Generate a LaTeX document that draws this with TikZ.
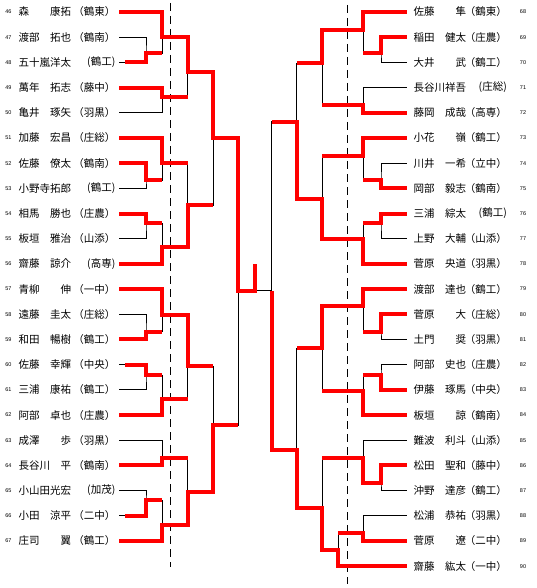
\documentclass[tikz,border=0pt]{standalone}
\usepackage{fontspec}
\newfontfamily\jpfont{Noto Sans CJK JP}
\newfontfamily\numfont{Liberation Sans}

\tikzset{
  win/.style={red, line width=4pt},
  lose/.style={black, line width=0.9pt},
  guide/.style={black, line width=0.9pt, dash pattern=on 8pt off 5pt},
  pname/.style={anchor=west, inner sep=0pt, font=\jpfont\fontsize{10.5}{12}\selectfont},
  pschool/.style={anchor=east, inner sep=0pt, font=\jpfont\fontsize{10.5}{12}\selectfont},
  pnum/.style={inner sep=0pt, font=\numfont\fontsize{5.5}{6}\selectfont},
}

\begin{document}
\begin{tikzpicture}[x=1pt, y=-1pt]
    % 設定
    \def\dy{25.19} % 行の間隔
    \useasboundingbox (0,0) rectangle (536,588);

    % 左側の選手
    \foreach \pn/\nm/\sch [count=\i from 0] in {
        46/森　　康拓/（鶴東）, 47/渡部　拓也/（鶴南）, 48/五十嵐洋太/{(鶴工)},
        49/萬年　拓志/（藤中）, 50/亀井　琢矢/（羽黒）, 51/加藤　宏昌/（庄総）,
        52/佐藤　僚太/（鶴南）, 53/小野寺拓郎/{(鶴工)}, 54/相馬　勝也/（庄農）,
        55/板垣　雅治/（山添）, 56/齋藤　諒介/{(高専)}, 57/青柳　　伸/（一中）,
        58/遠藤　圭太/（庄総）, 59/和田　暢樹/（鶴工）, 60/佐藤　幸輝/（中央）,
        61/三浦　康祐/（鶴工）, 62/阿部　卓也/（庄農）, 63/成澤　　歩/（羽黒）,
        64/長谷川　平/（鶴南）, 65/小山田光宏/{(加茂)}, 66/小田　涼平/（二中）,
        67/庄司　　翼/（鶴工）}{
        \coordinate (p\pn) at (119, 12+\dy*\i);
        \node[pnum] (num\pn) at (8.5, 12+\dy*\i) {\pn};
        \node[pname] (nm\pn) at (18.5, 12+\dy*\i) {\nm};
        \node[pschool] (sc\pn) at (115.5, 12+\dy*\i) {\sch};
    }

    % 右側の選手
    \foreach \pn/\nm/\sch [count=\i from 0] in {
        68/佐藤　　隼/（鶴東）, 69/稲田　健太/（庄農）, 70/大井　　武/（鶴工）,
        71/長谷川祥吾/{(庄総)}, 72/藤岡　成哉/（高専）, 73/小花　　嶺/（鶴工）,
        74/川井　一希/（立中）, 75/岡部　毅志/（鶴南）, 76/三浦　綜太/{(鶴工)},
        77/上野　大輔/（山添）, 78/菅原　央道/（羽黒）, 79/渡部　達也/（鶴工）,
        80/菅原　　大/（庄総）, 81/土門　　奨/（羽黒）, 82/阿部　史也/（庄農）,
        83/伊藤　琢馬/（中央）, 84/板垣　　諒/（鶴南）, 85/難波　利斗/（山添）,
        86/松田　聖和/（藤中）, 87/沖野　達彦/（鶴工）, 88/松浦　恭祐/（羽黒）,
        89/菅原　　遼/（二中）, 90/齋藤　紘太/（一中）}{
        \coordinate (p\pn) at (406.7, 12+\dy*\i);
        \node[pnum] (num\pn) at (523, 12+\dy*\i) {\pn};
        \node[pname] (nm\pn) at (413.3, 12+\dy*\i) {\nm};
        \node[pschool] (sc\pn) at (507, 12+\dy*\i) {\sch};
    }

    % 試合の位置（左）
    \coordinate (a1) at (146,53.3);
    \coordinate (a2) at (162.3,37.3);
    \coordinate (a3) at (162.3,96.7);
    \coordinate (a4) at (146,180);
    \coordinate (a5) at (162.3,163.3);
    \coordinate (a6) at (146,223.3);
    \coordinate (a7) at (162.3,247);
    \coordinate (a8) at (146,331.7);
    \coordinate (a9) at (162.3,315);
    \coordinate (a10) at (146,375);
    \coordinate (a11) at (162.3,398.8);
    \coordinate (a12) at (162.3,458.3);
    \coordinate (a13) at (146,500);
    \coordinate (a14) at (162.3,525);
    \coordinate (b1) at (187.5,71.7);
    \coordinate (b2) at (187.5,205);
    \coordinate (b3) at (187.5,366);
    \coordinate (b4) at (187.5,491.7);
    \coordinate (c1) at (213.3,138.3);
    \coordinate (c2) at (213.3,425);
    \coordinate (d1) at (238.3,290.7);
    \coordinate (champ) at (255,264.3);

    % 試合の位置（右）
    \coordinate (e1) at (381,53.3);
    \coordinate (e2) at (363.3,30);
    \coordinate (e3) at (363.3,105);
    \coordinate (e4) at (381,180);
    \coordinate (e5) at (363.3,155.7);
    \coordinate (e6) at (381,223.3);
    \coordinate (e7) at (363.3,239);
    \coordinate (e8) at (381,331.7);
    \coordinate (e9) at (363.3,305.5);
    \coordinate (e10) at (381,375);
    \coordinate (e11) at (363.3,391);
    \coordinate (e12) at (381,483.3);
    \coordinate (e13) at (363.3,458.3);
    \coordinate (e14) at (363.3,533.3);
    \coordinate (e15) at (338.3,550);
    \coordinate (f1) at (322.3,63.3);
    \coordinate (f2) at (322.3,199);
    \coordinate (f3) at (322.3,348.3);
    \coordinate (f4) at (322.3,508.3);
    \coordinate (g1) at (296.7,121.7);
    \coordinate (g2) at (296.7,450);
    \coordinate (h1) at (271.7,290.7);

    % 点線
    \draw[guide] (170.7,3) -- (170.7,567);
    \draw[guide] (347.7,5) -- (347.7,584);

    % 組み合わせ（黒線）
    \foreach \t/\m/\b in {p47/a1/p48, p46/a2/a1, p49/a3/p50, p52/a4/p53, p51/a5/a4,
        p54/a6/p55, a6/a7/p56, p58/a8/p59, p57/a9/a8, p60/a10/p61, a10/a11/p62,
        p63/a12/p64, p65/a13/p66, a13/a14/p67, a2/b1/a3, a5/b2/a7, a9/b3/a11,
        a12/b4/a14, b1/c1/b2, b3/c2/b4, c1/d1/c2,
        p69/e1/p70, p68/e2/e1, p71/e3/p72, p74/e4/p75, p73/e5/e4, p76/e6/p77,
        e6/e7/p78, p80/e8/p81, p79/e9/e8, p82/e10/p83, e10/e11/p84, p86/e12/p87,
        p85/e13/e12, p88/e14/p89, e14/e15/p90, e2/f1/e3, e5/f2/e7, e9/f3/e11,
        e13/f4/e15, f1/g1/f2, f3/g2/f4, g1/h1/g2}
        \draw[lose] (\t) -| (\m) |- (\b);
    \draw[lose] (d1) -- (h1); % 決勝

    % 勝ち上がり（赤線、左）
    \draw[win] (p46) -| (a2) -| (b1) -| (c1) -| (d1) -| (champ);
    \draw[win] ([xshift=6pt]p48) -| (a1) -- (a1 -| a2);
    \draw[win] (p49) -| (a3) -- (a3 -| b1);
    \draw[win] (p51) -| (a5) -- (a5 -| b2);
    \draw[win] (p52) -| (a4) -- (a4 -| a5);
    \draw[win] (p54) -| (a6) -- (a6 -| a7);
    \draw[win] (p56) -| (a7) -| (b2) -- (b2 -| c1);
    \draw[win] (p57) -| (a9) -| (b3) -- (b3 -| c2);
    \draw[win] (p59) -| (a8) -- (a8 -| a9);
    \draw[win] ([xshift=6pt]p60) -| (a10) -- (a10 -| a11);
    \draw[win] (p62) -| (a11) -- (a11 -| b3);
    \draw[win] (p64) -| (a12) -- (a12 -| b4);
    \draw[win] ([xshift=6pt]p66) -| (a13) -- (a13 -| a14);
    \draw[win] (p67) -| (a14) -| (b4) -| (c2) -- (c2 -| d1);

    % 勝ち上がり（赤線、右）
    \draw[win] (p68) -| (e2) -| (f1) -- (f1 -| g1);
    \draw[win] (p69) -| (e1) -- (e1 -| e2);
    \draw[win] (p72) -| (e3) -- (e3 -| f1);
    \draw[win] (p73) -| (e5) -- (e5 -| f2);
    \draw[win] (p75) -| (e4) -- (e4 -| e5);
    \draw[win] (p76) -| (e6) -- (e6 -| e7);
    \draw[win] (p78) -| (e7) -| (f2) -| (g1) -- (g1 -| h1);
    \draw[win] (p79) -| (e9) -| (f3) -- (f3 -| g2);
    \draw[win] (p80) -| (e8) -- (e8 -| e9);
    \draw[win] (p83) -| (e10) -- (e10 -| e11);
    \draw[win] (p84) -| (e11) -- (e11 -| f3);
    \draw[win] (p86) -| (e12) -| (e13) -- (e13 -| f4);
    \draw[win] (p89) -| (e14) -- (e14 -| e15);
    \draw[win] (p90) -| (e15) -| (f4) -| (g2) -| (h1);

\end{tikzpicture}
\end{document}
